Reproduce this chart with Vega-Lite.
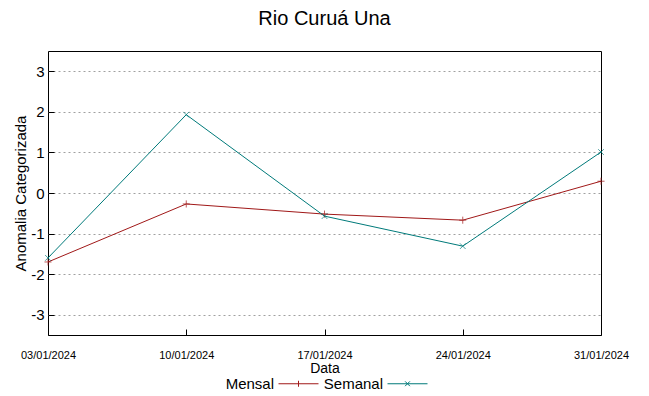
{
  "$schema": "https://vega.github.io/schema/vega-lite/v6.json",
  "autosize": {"type": "none"},
  "padding": {"left": 48, "top": 51, "right": 48, "bottom": 61},
  "width": 553,
  "height": 284,
  "background": "white",
  "title": {"text": "Rio Curuá Una", "fontSize": 20, "font": "Liberation Sans", "fontWeight": "normal", "color": "#000000", "anchor": "middle", "offset": 22},
  "config": {
    "view": {"stroke": "#000000", "strokeWidth": 1},
    "font": "Liberation Sans"
  },
  "data": {"values": [
    {"data": "03/01/2024", "serie": "Mensal", "valor": -1.70},
    {"data": "10/01/2024", "serie": "Mensal", "valor": -0.27},
    {"data": "17/01/2024", "serie": "Mensal", "valor": -0.52},
    {"data": "24/01/2024", "serie": "Mensal", "valor": -0.67},
    {"data": "31/01/2024", "serie": "Mensal", "valor": 0.29},
    {"data": "03/01/2024", "serie": "Semanal", "valor": -1.60},
    {"data": "10/01/2024", "serie": "Semanal", "valor": 1.93},
    {"data": "17/01/2024", "serie": "Semanal", "valor": -0.57},
    {"data": "24/01/2024", "serie": "Semanal", "valor": -1.31},
    {"data": "31/01/2024", "serie": "Semanal", "valor": 1.01}
  ]},
  "encoding": {
    "x": {"field": "data", "type": "ordinal", "sort": null,
      "scale": {"type": "point", "padding": 0},
      "axis": {"title": "Data", "titleFontSize": 14, "titleFontWeight": "normal", "titleColor": "#000", "titlePadding": 1,
        "labelAngle": 0, "labelFont": "Liberation Sans", "labelFontSize": 11, "labelColor": "#000", "labelPadding": 20,
        "tickSize": -6, "tickColor": "#000", "domain": false, "grid": false}},
    "y": {"field": "valor", "type": "quantitative",
      "scale": {"domain": [-3.5, 3.5], "nice": false, "zero": false},
      "axis": {"title": "Anomalia Categorizada", "titleFontSize": 15, "titleFontWeight": "normal", "titleColor": "#000", "titlePadding": 2,
        "values": [-3, -2, -1, 0, 1, 2, 3], "labelExpr": "replace(datum.label, '−', '-')", "labelFontSize": 15, "labelColor": "#000", "labelPadding": 10,
        "tickSize": -6, "tickColor": "#000", "domain": false,
        "grid": true, "gridDash": [2, 3], "gridColor": "#a0a0a0", "gridWidth": 1}}
  },
  "layer": [
    {
      "mark": {"type": "line", "strokeWidth": 1},
      "encoding": {
        "color": {"field": "serie", "type": "nominal",
          "scale": {"domain": ["Mensal", "Semanal"], "range": ["#a01818", "#007a7a"]},
          "legend": {"title": null, "orient": "none", "legendX": 230, "legendY": 312, "direction": "horizontal",
            "labelFontSize": 15, "labelColor": "#000", "labelAlign": "right", "labelOffset": -45,
            "symbolSize": 1600, "symbolStrokeWidth": 1, "columnPadding": 2,
            "encode": {"symbols": {"update": {
              "shape": {"signal": "datum.value === 'Mensal' ? 'M-1,0L1,0M0,-0.15L0,0.15' : 'M-1,0L1,0M-0.12,-0.12L0.12,0.12M-0.12,0.12L0.12,-0.12'"},
              "fill": {"value": "transparent"}}}}}}
      }
    },
    {
      "transform": [{"filter": "datum.serie === 'Mensal'"}],
      "mark": {"type": "point", "filled": false, "strokeWidth": 1, "size": 50, "color": "#a01818", "shape": "M-1,0L1,0M0,-1L0,1"}
    },
    {
      "transform": [{"filter": "datum.serie === 'Semanal'"}],
      "mark": {"type": "point", "filled": false, "strokeWidth": 1, "size": 50, "color": "#007a7a", "shape": "M-0.8,-0.8L0.8,0.8M-0.8,0.8L0.8,-0.8"}
    }
  ]
}
